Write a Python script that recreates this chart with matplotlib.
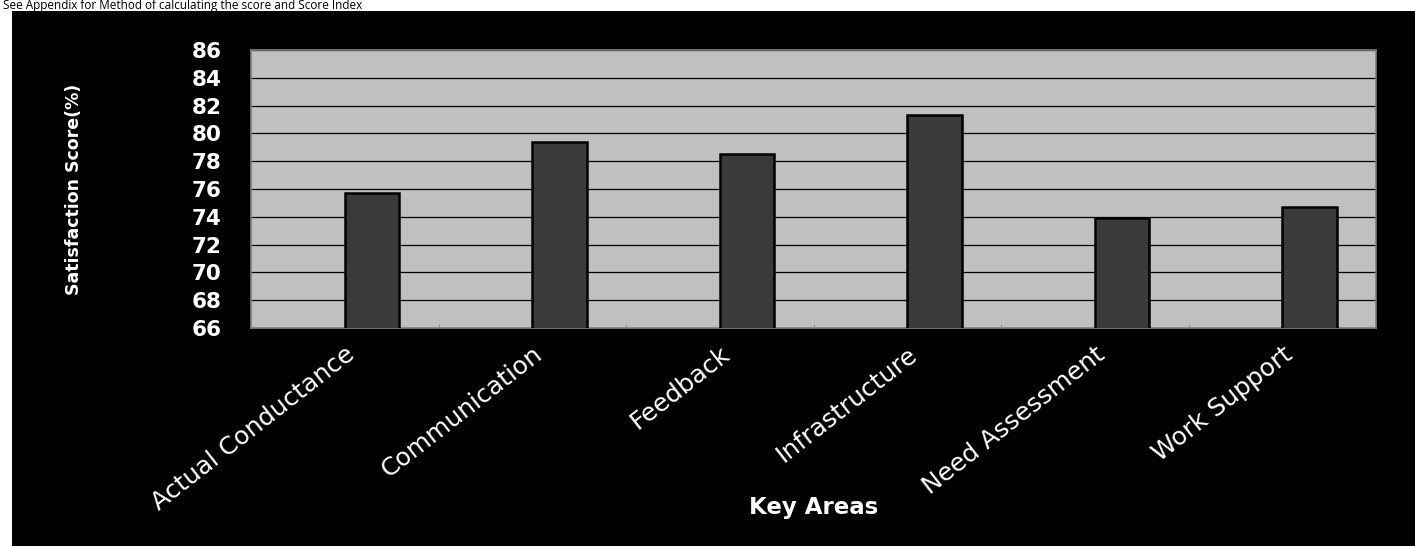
import matplotlib
matplotlib.use("Agg")
import matplotlib.pyplot as plt
from matplotlib.patches import Rectangle

# data
areas = ["Actual Conductance", "Communication", "Feedback",
         "Infrastructure", "Need Assessment", "Work Support"]
scores = [75.7, 79.4, 78.5, 81.3, 73.9, 74.7]
y_ticks = [66, 68, 70, 72, 74, 76, 78, 80, 82, 84, 86]

W, H = 1415, 546
fig = plt.figure(figsize=(W / 100, H / 100), dpi=100, facecolor="white")

# black chart background below the white strip
fig.patches.append(Rectangle((12 / W, 0), 1 - 12 / W, 1 - 11 / H,
                             transform=fig.transFigure, facecolor="black",
                             edgecolor="none", zorder=-5))

# note text at the top of the page
fig.text(3 / W, 1 - 8.5 / H,
         "See Appendix for Method of calculating the score and Score Index",
         family="Open Sans", fontsize=8.5, color="black",
         ha="left", va="baseline")

ax = fig.add_axes([251 / W, (H - 328) / H, 1125 / W, 278 / H])
ax.set_facecolor("#c0c0c0")

x = list(range(len(areas)))
ax.bar(x, scores, width=0.29, align="edge",
       color="#3a3a3a", edgecolor="black", linewidth=1.8, zorder=3)

ax.set_xlim(-0.5, len(areas) - 0.5)
ax.set_ylim(66, 86)
ax.set_yticks(y_ticks)
ax.yaxis.grid(True, color="black", linewidth=0.9, zorder=1)
ax.set_axisbelow(True)

for s in ax.spines.values():
    s.set_color("#808080")
    s.set_linewidth(1.2)

ax.tick_params(axis="y", length=0, pad=21, colors="white", labelsize=15.5)
for lab in ax.get_yticklabels():
    lab.set_fontweight("bold")
    lab.set_family("DejaVu Sans")

ax.set_xticks(x)
ax.set_xticklabels(areas, rotation=38, ha="right", rotation_mode="anchor",
                   color="white", fontsize=18, family="DejaVu Sans")
ax.tick_params(axis="x", length=0, pad=10)
# small marks at the category boundaries
ax.set_xticks([i + 0.5 for i in x[:-1]], minor=True)
ax.tick_params(axis="x", which="minor", direction="in", length=3,
               color="#808080")

ax.set_ylabel("Satisfaction Score(%)", color="white", fontsize=12.5,
              fontweight="bold", family="DejaVu Sans")
ax.yaxis.set_label_coords(-0.149, 0.5)
ax.set_xlabel("Key Areas", color="white", fontsize=16.5, fontweight="bold",
              family="DejaVu Sans")
ax.xaxis.set_label_coords(0.5, -0.644)
ax.xaxis.label.set_va("center")

fig.savefig("out.png", dpi=100, facecolor="white")
